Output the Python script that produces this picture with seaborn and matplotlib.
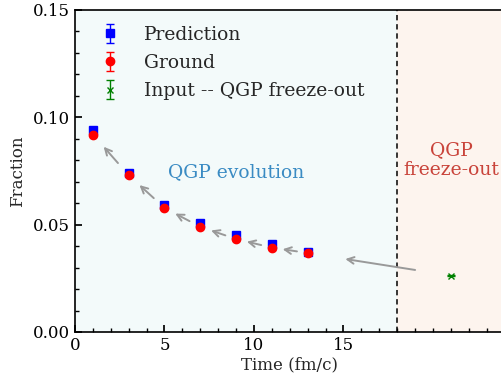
import matplotlib
matplotlib.use("Agg")
import matplotlib.pyplot as plt
import seaborn as sns
import numpy as np

time = [1, 3, 5, 7, 9, 11, 13]
prediction = [0.0940, 0.0740, 0.0590, 0.0508, 0.0450, 0.0410, 0.0373]
prediction_err = [0.0006, 0.0005, 0.0005, 0.0004, 0.0004, 0.0004, 0.0004]
ground = [0.0920, 0.0730, 0.0578, 0.0490, 0.0433, 0.0393, 0.0368]
ground_err = [0.0004, 0.0004, 0.0003, 0.0003, 0.0003, 0.0003, 0.0003]
input_time = [21]
input_val = [0.0262]
input_err = [0.0003]
freeze_time = 18
long_arrow_start = (19.0, 0.0289)
long_arrow_end = (15.1, 0.0340)

sns.set_theme(style="ticks")
plt.rcParams['font.family'] = ['DejaVu Serif']
plt.rcParams['mathtext.fontset'] = 'dejavuserif'

fig = plt.figure(figsize=(5.02, 3.78), dpi=100)
ax = fig.add_axes([75/502, 46/378, 24*17.9/502, 322/378])

ax.axvspan(0, freeze_time, color="#f3fafa", zorder=0)
ax.axvspan(freeze_time, 24, color="#fdf4ee", zorder=0)
ax.axvline(freeze_time, color="black", ls=(0, (3.5, 2.5)), lw=1.1, zorder=1)

ax.errorbar(time, prediction, yerr=prediction_err, fmt="s", color="blue",
            ms=6, capsize=3, elinewidth=1, label="Prediction", zorder=3)
ax.errorbar(time, ground, yerr=ground_err, fmt="o", color="red",
            ms=6, capsize=3, elinewidth=1, label="Ground", zorder=4)
ax.errorbar(input_time, input_val, yerr=input_err, fmt="x", color="green",
            ms=5, capsize=3, elinewidth=1, label="Input -- QGP freeze-out", zorder=4)

# arrows between consecutive ground points
for i in range(len(time) - 1):
    x0, y0 = time[i + 1], ground[i + 1]
    x1, y1 = time[i], ground[i]
    sx, sy = x0 + 0.3 * (x1 - x0), y0 + 0.3 * (y1 - y0)
    ex, ey = x0 + 0.7 * (x1 - x0), y0 + 0.7 * (y1 - y0)
    ax.annotate("", xy=(ex, ey), xytext=(sx, sy),
                arrowprops=dict(arrowstyle="->", color="#999999", lw=1.4,
                                shrinkA=0, shrinkB=0), zorder=2)
ax.annotate("", xy=long_arrow_end, xytext=long_arrow_start,
            arrowprops=dict(arrowstyle="->", color="#999999", lw=1.4,
                            shrinkA=0, shrinkB=0), zorder=2)

ax.text(9.0, 0.0745, "QGP evolution", color="#3a8bc3", fontsize=13.5,
        ha="center", va="center")
ax.text(21.0, 0.0800, "QGP\nfreeze-out", color="#c9433a", fontsize=13.5,
        ha="center", va="center", linespacing=1.1)

ax.set_xlim(0, 24)
ax.set_ylim(0, 0.15)
ax.set_xticks([0, 5, 10, 15])
ax.set_yticks([0.00, 0.05, 0.10, 0.15])
ax.set_yticklabels(["0.00", "0.05", "0.10", "0.15"])
ax.set_xticks(np.arange(0, 24, 1), minor=True)
ax.set_yticks(np.arange(0, 0.15, 0.01), minor=True)
ax.tick_params(which="both", direction="in", labelsize=12, colors="black")
ax.tick_params(which="major", length=5)
ax.tick_params(which="minor", length=3)
ax.set_xlabel("Time (fm/c)", fontsize=12, labelpad=2)
ax.set_ylabel("Fraction", fontsize=12, labelpad=5)
for s in ax.spines.values():
    s.set_color("black")
    s.set_linewidth(1.2)

ax.legend(loc="upper left", frameon=False, fontsize=13.5, handlelength=1.0,
          handletextpad=1.3, borderaxespad=0.3, labelspacing=0.55,
          bbox_to_anchor=(0.03, 0.992))

fig.savefig("out.png", dpi=100)
